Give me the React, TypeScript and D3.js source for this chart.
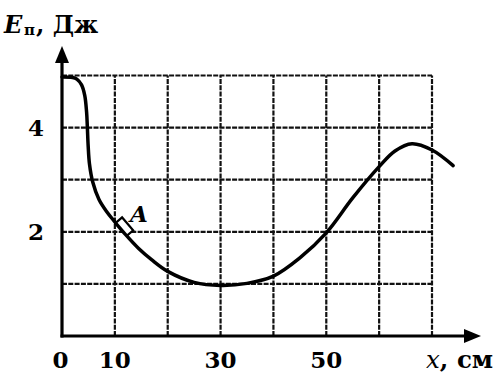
import React from "react";
import * as d3 from "d3";

// Data
const curveX = [0, 2, 2.8, 3.7, 4.3, 4.65, 4.8, 4.95, 5.2, 5.8, 7, 8.5, 10, 12, 14.5, 17, 20, 25, 30, 35, 40, 45, 50, 55, 60, 63, 66.2, 70, 74];
const curveE = [4.97, 4.96, 4.93, 4.82, 4.62, 4.3, 4.0, 3.65, 3.3, 2.96, 2.62, 2.38, 2.19, 1.95, 1.68, 1.46, 1.24, 1.03, 0.97, 1.01, 1.15, 1.5, 1.98, 2.65, 3.25, 3.55, 3.69, 3.57, 3.27];
const gridXValues = [10, 20, 30, 40, 50, 60, 70];
const gridYValues = [1, 2, 3, 4, 5];
const xTickLabels = [0, 10, 30, 50];
const yTickLabels = [2, 4];
const pointA = { x: 11.2, label: "A" };

const W = 500;
const H = 374;
const FONT = "'DejaVu Serif', serif";

export default function App() {
  const x = d3.scaleLinear().domain([0, 70]).range([62, 432]);
  const y = d3.scaleLinear().domain([0, 5]).range([336, 75.5]);

  const line = d3
    .line<number>()
    .x((_, i) => x(curveX[i]))
    .y((d) => y(d))
    .curve(d3.curveCatmullRom.alpha(0.5));
  const path = line(curveE) || "";

  // marker placement on the curve
  const interp = d3.scaleLinear().domain(curveX).range(curveE);
  const ax = pointA.x;
  const ae = interp(ax);
  const px = x(ax);
  const py = y(ae);
  const p1x = x(ax - 1.5), p1y = y(interp(ax - 1.5));
  const p2x = x(ax + 1.5), p2y = y(interp(ax + 1.5));
  const ang = Math.atan2(p2y - p1y, p2x - p1x);
  const angDeg = (ang * 180) / Math.PI;
  const rw = 17, rh = 8;
  const off = rh / 2 + 0.5;
  const cx = px + Math.sin(ang) * off;
  const cy = py - Math.cos(ang) * off;

  const x0 = x(0);
  const y0 = y(0);
  const dash = "5 1.3";

  return (
    <svg
      width={W}
      height={H}
      viewBox={`0 0 ${W} ${H}`}
      style={{ position: "absolute", left: 0, top: 0, background: "#fff" }}
    >
      <rect x={0} y={0} width={W} height={H} fill="#fff" />
      {/* grid */}
      {gridXValues.map((v) => (
        <line key={"gx" + v} x1={x(v)} x2={x(v)} y1={y(0)} y2={y(5)} stroke="#111" strokeWidth={2.2} strokeDasharray={dash} />
      ))}
      {gridYValues.map((v) => (
        <line key={"gy" + v} x1={x(0)} x2={x(70)} y1={y(v)} y2={y(v)} stroke="#111" strokeWidth={2.2} strokeDasharray={dash} />
      ))}
      {/* axes */}
      <line x1={x0} x2={x0} y1={y0 + 1.5} y2={60} stroke="#000" strokeWidth={3.2} />
      <path d={`M${x0},46 L${x0 - 7},63 L${x0 + 7},63 Z`} fill="#000" />
      <line x1={x0 - 1.5} x2={466} y1={y0} y2={y0} stroke="#000" strokeWidth={3.2} />
      <path d={`M481,${y0} L464,${y0 - 7} L464,${y0 + 7} Z`} fill="#000" />

      {/* curve */}
      <path d={path} fill="none" stroke="#000" strokeWidth={3.5} strokeLinecap="round" strokeLinejoin="round" />

      {/* marker A */}
      <rect
        x={-rw / 2}
        y={-rh / 2}
        width={rw}
        height={rh}
        fill="#fff"
        stroke="#000"
        strokeWidth={2.2}
        transform={`translate(${cx},${cy}) rotate(${angDeg})`}
      />
      <text x={130} y={222} fontFamily={FONT} fontSize={23} fontWeight="bold" fontStyle="italic" fill="#000">
        {pointA.label}
      </text>

      {/* y tick labels */}
      {yTickLabels.map((v) => (
        <text key={"yl" + v} x={44} y={y(v) + 8} textAnchor="end" fontFamily={FONT} fontSize={23} fontWeight="bold" fill="#000">
          {v}
        </text>
      ))}
      {/* x tick labels */}
      {xTickLabels.map((v) => (
        <text key={"xl" + v} x={x(v) - (v === 0 ? 1.5 : 0)} y={368} textAnchor="middle" fontFamily={FONT} fontSize={23} fontWeight="bold" fill="#000">
          {v}
        </text>
      ))}

      {/* axis titles */}
      <text y={33} fontFamily={FONT} fontWeight="bold" fill="#000">
        <tspan x={4} fontSize={24} fontStyle="italic">E</tspan>
        <tspan x={24} y={35} fontSize={15}>п</tspan>
        <tspan x={36} y={33} fontSize={24}>, Дж</tspan>
      </text>
      <text y={368} fontFamily={FONT} fill="#000" fontSize={24.5}>
        <tspan x={426} fontStyle="italic">x</tspan>
        <tspan fontWeight="bold">, см</tspan>
      </text>
    </svg>
  );
}
